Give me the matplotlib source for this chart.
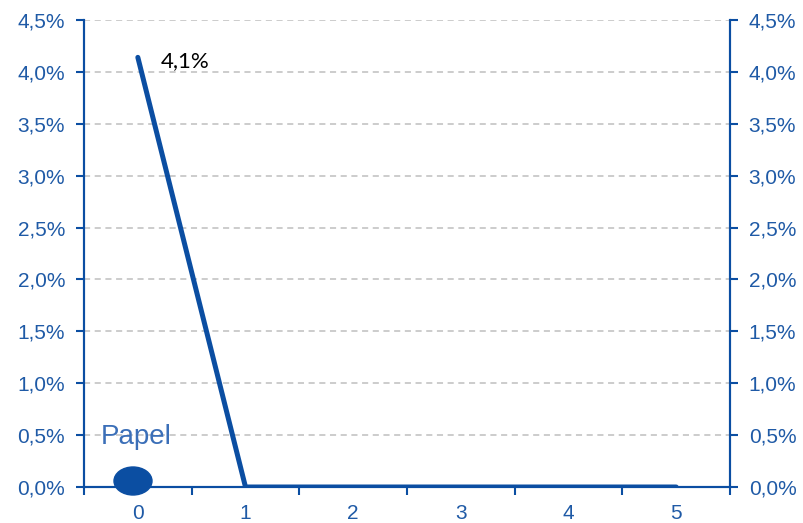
import matplotlib
matplotlib.use("Agg")
import matplotlib.pyplot as plt
from matplotlib.patches import Ellipse
from matplotlib.ticker import FuncFormatter, MultipleLocator, FixedLocator

x_vals = [0, 1, 2, 3, 4, 5]
y_vals = [4.14, 0.0, 0.0, 0.0, 0.0, 0.0]
x_labels = ["0", "1", "2", "3", "4", "5"]
peak_label = "4,1%"
series_name = "Papel"

blue = "#0b4ea2"
tick_blue = "#1f5aa6"

fig = plt.figure(figsize=(8.04, 5.23), dpi=100)
ax = fig.add_axes([84/804, 36/523, 646/804, 467/523])

ax.plot(x_vals, y_vals, color=blue, lw=3.6, solid_capstyle="round", zorder=3)

ax.set_xlim(-0.5, 5.5)
ax.set_ylim(0, 4.5)

fmt = FuncFormatter(lambda v, p: f"{v:.1f}".replace(".", ",") + "%")
ax.yaxis.set_major_locator(MultipleLocator(0.5))
ax.yaxis.set_major_formatter(fmt)
ax.set_xticks(x_vals)
ax.set_xticklabels(x_labels)
ax.xaxis.set_minor_locator(FixedLocator([i - 0.5 for i in range(0, 7)]))
ax.tick_params(axis="x", which="major", length=0, pad=12, labelsize=15, labelcolor=tick_blue)
ax.tick_params(axis="x", which="minor", length=5.5, width=1.5, color=blue, direction="out")
ax.tick_params(axis="y", length=5.5, width=1.5, color=blue, labelsize=15, labelcolor=tick_blue, pad=8)

for lab in ax.get_xticklabels() + ax.get_yticklabels():
    lab.set_fontfamily("Liberation Sans")

ax.grid(axis="y", color="#bfbfbf", ls=(0, (4, 3)), lw=1.1)
ax.set_axisbelow(True)

for s in ["left", "right", "bottom"]:
    ax.spines[s].set_color(blue)
    ax.spines[s].set_linewidth(1.5)
ax.spines["top"].set_visible(False)

ax2 = ax.twinx()
ax2.set_ylim(0, 4.5)
ax2.yaxis.set_major_locator(MultipleLocator(0.5))
ax2.yaxis.set_major_formatter(fmt)
ax2.tick_params(axis="y", length=5.5, width=1.5, color=blue, labelsize=15, labelcolor=tick_blue, pad=8)
for lab in ax2.get_yticklabels():
    lab.set_fontfamily("Liberation Sans")
for s in ["left", "right", "bottom"]:
    ax2.spines[s].set_color(blue)
    ax2.spines[s].set_linewidth(1.5)
ax2.spines["top"].set_visible(False)

ax.annotate(peak_label, xy=(x_vals[0], y_vals[0]), xytext=(16.5, -3), textcoords="offset points",
            ha="left", va="center", fontsize=16, color="black", family="Lato")

ax.add_patch(Ellipse((49/646, 6/467), 38/646, 28/467, transform=ax.transAxes,
                     color=blue, clip_on=False, zorder=4))
ax.text(17/646, 50/467, series_name, transform=ax.transAxes, fontsize=20,
        color="#3b6fb8", family="Liberation Sans", ha="left", va="center")

fig.savefig("out.png", dpi=100)
